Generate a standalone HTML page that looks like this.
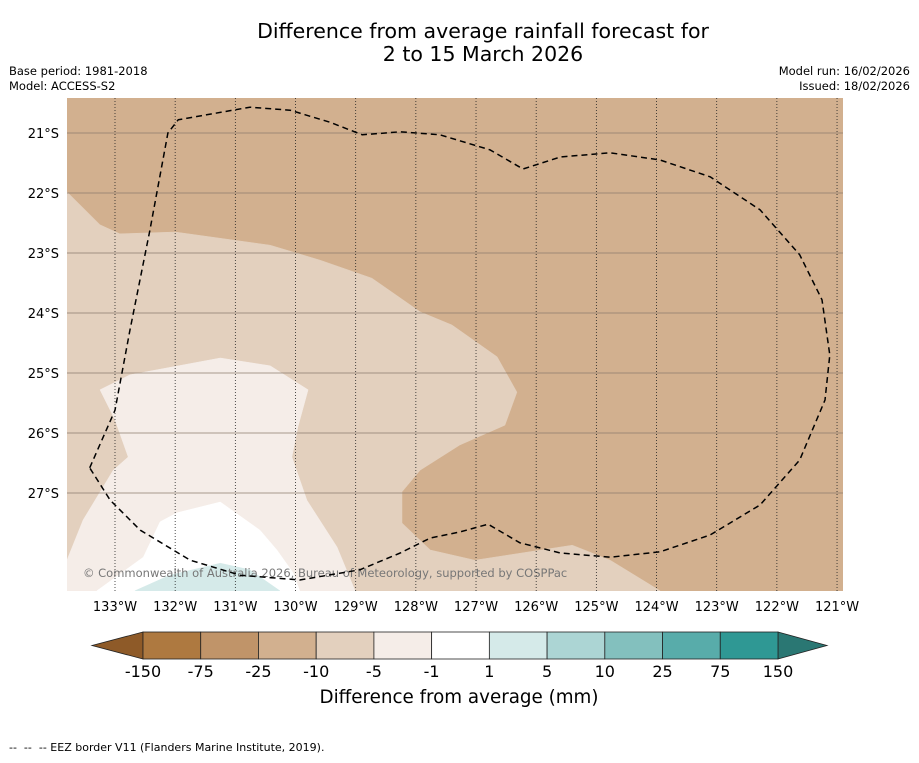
<!DOCTYPE html>
<html><head><meta charset="utf-8">
<style>
body{margin:0;background:#fff;width:919px;height:758px;overflow:hidden;font-family:"Liberation Sans","DejaVu Sans",sans-serif;}
svg text{font-family:"DejaVu Sans","Liberation Sans",sans-serif;}
</style></head>
<body>
<svg id="chart" width="919" height="758" xmlns="http://www.w3.org/2000/svg">
<text x="483" y="38" text-anchor="middle" font-size="20.5">Difference from average rainfall forecast for</text>
<text x="483" y="61" text-anchor="middle" font-size="20.5">2 to 15 March 2026</text>
<text x="9" y="75" font-size="11.5">Base period: 1981-2018</text>
<text x="9" y="90" font-size="11.5">Model: ACCESS-S2</text>
<text x="910" y="75" font-size="11.5" text-anchor="end">Model run: 16/02/2026</text>
<text x="910" y="90" font-size="11.5" text-anchor="end">Issued: 18/02/2026</text>
<defs><clipPath id="mapclip"><rect x="67" y="98" width="776" height="493"/></clipPath></defs>
<g id="map" clip-path="url(#mapclip)"></g>
<g id="axes"></g>
<g id="cbar"></g>
<text x="459" y="703" text-anchor="middle" font-size="18.3">Difference from average (mm)</text>
<text x="9" y="751" font-size="11" style="white-space:pre" xml:space="preserve">--  --  -- EEZ border V11 (Flanders Marine Institute, 2019).</text>
</svg>
<script>
// Longitudes in degrees West, latitudes in degrees South
const lonTicks=[133,132,131,130,129,128,127,126,125,124,123,122,121];
const latTicks=[21,22,23,24,25,26,27];
const cbarLevels=["-150","-75","-25","-10","-5","-1","1","5","10","25","75","150"];
const cbarColors=["#ae7940","#c09469","#d2b08f","#e3d0be","#f5ede8","#ffffff","#d5eae9","#acd5d4","#83c0be","#58acaa","#2f9894"];
const bgLevel="#d2b08f";
const polyMinus10=[[133.80,21.98],[133.25,22.53],[132.92,22.68],[132.00,22.65],[130.42,22.87],[129.59,23.12],[128.73,23.42],[127.93,23.98],[127.40,24.20],[126.65,24.73],[126.32,25.32],[126.52,25.87],[127.27,26.20],[127.93,26.62],[128.23,26.98],[128.23,27.50],[127.76,27.95],[127.02,28.12],[125.40,27.87],[124.77,28.12],[123.94,28.63],[133.80,28.63]];
const polyMinus5=[[133.25,25.28],[132.75,25.03],[131.25,24.75],[130.42,24.88],[129.79,25.28],[129.96,25.90],[130.06,26.40],[129.81,27.12],[129.31,27.90],[129.01,28.63],[133.80,28.63],[133.80,28.12],[133.53,27.45],[133.03,26.62],[132.78,26.40],[133.00,25.78]];
const polyZero=[[133.30,28.63],[132.53,28.07],[132.25,27.48],[131.97,27.33],[131.25,27.15],[130.59,27.62],[130.31,27.95],[130.04,28.33],[129.93,28.63]];
const polyPlus1=[[132.67,28.63],[132.09,28.37],[131.25,28.17],[130.76,28.28],[130.26,28.63]];
const eez=[[133.42,26.58],[133.00,25.62],[132.75,24.28],[132.42,22.62],[132.12,21.00],[131.95,20.78],[130.76,20.57],[130.09,20.62],[129.43,20.82],[128.89,21.03],[128.26,20.98],[127.60,21.03],[126.77,21.28],[126.22,21.60],[125.60,21.40],[124.77,21.33],[123.94,21.45],[123.11,21.73],[122.28,22.28],[121.62,23.03],[121.25,23.78],[121.12,24.70],[121.20,25.45],[121.62,26.45],[122.28,27.20],[123.11,27.70],[123.94,27.98],[124.77,28.07],[125.60,28.00],[126.27,27.83],[126.80,27.52],[127.27,27.65],[127.76,27.75],[128.26,28.00],[128.93,28.28],[129.93,28.45],[130.92,28.37],[131.75,28.12],[132.58,27.62],[133.08,27.12],[133.42,26.58]];

const NS="http://www.w3.org/2000/svg";
const X=lon=>115+(133-lon)*60.17;
const Y=lat=>133+(lat-21)*60;
function mk(tag,attrs,parent){const e=document.createElementNS(NS,tag);for(const k in attrs)e.setAttribute(k,attrs[k]);parent.appendChild(e);return e;}
const map=document.getElementById('map');
const bg=mk('rect',{x:67,y:98,width:776,height:493,fill:bgLevel},map);


const pts=a=>a.map(p=>X(p[0]).toFixed(1)+','+Y(p[1]).toFixed(1)).join(' ');
[[polyMinus10,cbarColors[3],'contour-minus10-minus5'],[polyMinus5,cbarColors[4],'contour-minus5-minus1'],[polyZero,cbarColors[5],'contour-minus1-plus1'],[polyPlus1,cbarColors[6],'contour-plus1-plus5']].forEach(d=>{
  const p=mk('polygon',{points:pts(d[0]),fill:d[1],stroke:d[1],'stroke-width':0.5},map);
  
  
});
const cr=mk('text',{x:83,y:577,'font-size':11.5,fill:'#777'},map);
cr.textContent='© Commonwealth of Australia 2026, Bureau of Meteorology, supported by COSPPac';


latTicks.forEach(l=>{
  const g=mk('line',{x1:67,x2:843,y1:Y(l),y2:Y(l),stroke:'#8c7c6c','stroke-width':0.8},map);
  
  
});
lonTicks.forEach(l=>{
  const g=mk('line',{x1:X(l),x2:X(l),y1:98,y2:591,stroke:'#222','stroke-width':0.8,'stroke-dasharray':'1,2'},map);
  
  
});
const ez=mk('polyline',{points:pts(eez),fill:'none',stroke:'#000','stroke-width':1.5,'stroke-dasharray':'6,4','stroke-linejoin':'round'},map);


const axes=document.getElementById('axes');
lonTicks.forEach(l=>{
  const t=mk('text',{x:X(l),y:611,'text-anchor':'middle','font-size':13},axes);
  t.textContent=l+'°W';
  
  
});
latTicks.forEach(l=>{
  const t=mk('text',{x:59,y:Y(l)+5,'text-anchor':'end','font-size':13},axes);
  t.textContent=l+'°S';
  
  
});
const cb=document.getElementById('cbar');
const cx0=143,cx1=778,cy0=632,cy1=659,n=cbarColors.length,w=(cx1-cx0)/n;
const lt=mk('polygon',{points:`${cx0},${cy0} ${cx0},${cy1} 92,${(cy0+cy1)/2}`,fill:'#8e5a28',stroke:'#222','stroke-width':0.8},cb);


const rt=mk('polygon',{points:`${cx1},${cy0} ${cx1},${cy1} 827,${(cy0+cy1)/2}`,fill:'#2a7773',stroke:'#222','stroke-width':0.8},cb);


cbarColors.forEach((c,i)=>{
  const r=mk('rect',{x:cx0+i*w,y:cy0,width:w,height:cy1-cy0,fill:c,stroke:'#222','stroke-width':0.8},cb);
  
  
});
cbarLevels.forEach((s,i)=>{
  const t=mk('text',{x:cx0+i*w,y:677,'text-anchor':'middle','font-size':16},cb);
  t.textContent=s;
  
  
});
</script>
</body></html>
